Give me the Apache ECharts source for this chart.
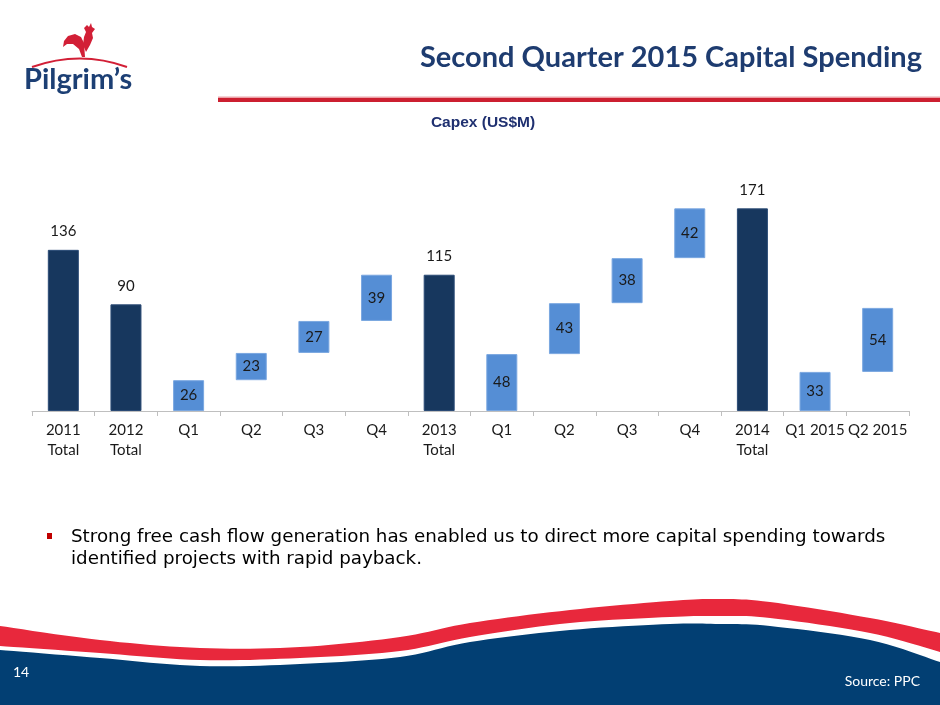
<!DOCTYPE html>
<html>
<head>
<meta charset="utf-8">
<script src="https://cdn.jsdelivr.net/npm/echarts@6/dist/echarts.min.js"></script>
<style>
html,body{margin:0;padding:0;background:#fff;}
#chart{width:940px;height:705px;}
</style>
</head>
<body>
<div id="chart"></div>
<script>
// ---- Data (US$M) ----
const categories = ['2011\nTotal','2012\nTotal','Q1','Q2','Q3','Q4','2013\nTotal','Q1','Q2','Q3','Q4','2014\nTotal','Q1 2015','Q2 2015'];
const totalValues   = [136, 90, '-', '-', '-', '-', 115, '-', '-', '-', '-', 171, '-', '-'];
const quarterValues = ['-', '-', 26, 23, 27, 39, '-', 48, 43, 38, 42, '-', 33, 54];
const baseValues    = [0, 0, 0, 26, 49, 76, 0, 0, 48, 91, 129, 0, 0, 33];

const NAVY = '#17375E';
const LIGHT = '#558ED5';
const FONT = 'Lato, "Open Sans", sans-serif';

// decorative wave helper (Catmull-Rom densify)
function smoothPts(pts, steps) {
  const out = [];
  for (let i = 0; i < pts.length - 1; i++) {
    const p0 = pts[Math.max(i - 1, 0)], p1 = pts[i], p2 = pts[i + 1], p3 = pts[Math.min(i + 2, pts.length - 1)];
    for (let t = 0; t < steps; t++) {
      const s = t / steps, s2 = s * s, s3 = s2 * s;
      const f = (a, b, c, d) => 0.5 * ((2 * b) + (-a + c) * s + (2 * a - 5 * b + 4 * c - d) * s2 + (-a + 3 * b - 3 * c + d) * s3);
      out.push([f(p0[0], p1[0], p2[0], p3[0]), f(p0[1], p1[1], p2[1], p3[1])]);
    }
  }
  out.push(pts[pts.length - 1]);
  return out;
}
const redTop = smoothPts([[0,626],[100,640],[200,648],[300,647],[400,637],[470,623],[570,610],[670,601],[720,599],[770,602],[870,618],[940,633]], 10);
const redBot = smoothPts([[0,646],[100,653],[200,660],[300,658],[400,651],[470,637],[570,623],[670,617],[720,616],[770,618],[870,633],[940,652]], 10);
const navyTop = smoothPts([[0,650],[100,658],[200,666],[300,664],[400,657],[470,642],[570,630],[670,624],[720,624],[770,626],[870,640],[940,662]], 10);

const chart = echarts.init(document.getElementById('chart'));
chart.setOption({
  backgroundColor: '#fff',
  animation: false,
  grid: { left: 32, right: 31, top: 174, bottom: 294, containLabel: false },
  xAxis: {
    type: 'category',
    data: categories,
    axisLine: { lineStyle: { color: '#BFBFBF', width: 1 } },
    axisTick: { show: true, length: 5, alignWithLabel: false, lineStyle: { color: '#BFBFBF' } },
    axisLabel: { interval: 0, fontFamily: FONT, fontSize: 15, lineHeight: 20, color: '#1a1a1a', margin: 9 }
  },
  yAxis: { type: 'value', min: 0, max: 200, show: false, splitLine: { show: false } },
  series: [
    {
      name: 'base', type: 'bar', stack: 'w', data: baseValues, barWidth: 31,
      itemStyle: { color: 'rgba(0,0,0,0)' }, silent: true
    },
    {
      name: 'Total', type: 'bar', stack: 'w', data: totalValues, barWidth: 31,
      itemStyle: { color: NAVY, borderColor: '#2A4A75', borderWidth: 1 },
      label: { show: true, position: 'top', distance: 11, fontFamily: FONT, fontSize: 15, color: '#1a1a1a' }
    },
    {
      name: 'Quarter', type: 'bar', stack: 'w', data: quarterValues, barWidth: 31,
      itemStyle: { color: LIGHT, borderColor: '#7AA7E0', borderWidth: 1 },
      label: { show: true, position: 'inside', fontFamily: FONT, fontSize: 15, color: '#1a1a1a' }
    }
  ],
  graphic: [
    // waves
    { type: 'polygon', z: 1, shape: { points: navyTop.concat([[940,705],[0,705]]) }, style: { fill: '#023F73' } },
    { type: 'polygon', z: 1, shape: { points: redTop.concat(redBot.slice().reverse()) }, style: { fill: '#E8283C' } },
    { type: 'text', z: 2, x: 13, y: 672, style: { text: '14', font: '14px ' + FONT, fill: '#fff', align: 'left', verticalAlign: 'middle', textAlign: 'left', textVerticalAlign: 'middle' } },
    { type: 'text', z: 2, x: 920, y: 681, style: { text: 'Source: PPC', font: '14px ' + FONT, fill: '#fff', align: 'right', verticalAlign: 'middle', textAlign: 'right', textVerticalAlign: 'middle' } },
    // title
    { type: 'text', x: 922, y: 58, style: { text: 'Second Quarter 2015 Capital Spending', font: 'bold 29px ' + FONT, fill: '#1E3C70', align: 'right', verticalAlign: 'middle', textAlign: 'right', textVerticalAlign: 'middle' } },
    { type: 'rect', shape: { x: 218, y: 96.5, width: 722, height: 1.5 }, style: { fill: '#EBA3A9' } },
    { type: 'rect', shape: { x: 218, y: 98, width: 722, height: 4 }, style: { fill: '#CC1F30' } },
    { type: 'text', x: 483, y: 123, style: { text: 'Capex (US$M)', font: 'bold 15.5px "Liberation Sans", Arial, sans-serif', fill: '#1F3070', align: 'center', verticalAlign: 'middle', textAlign: 'center', textVerticalAlign: 'middle' } },
    // bullet
    { type: 'rect', shape: { x: 47, y: 533, width: 5, height: 6 }, style: { fill: '#C00000' } },
    { type: 'text', x: 71, y: 537, style: { text: 'Strong free cash flow generation has enabled us to direct more capital spending towards', font: '18.3px "DejaVu Sans", Verdana, sans-serif', fill: '#000', align: 'left', verticalAlign: 'middle', textAlign: 'left', textVerticalAlign: 'middle' } },
    { type: 'text', x: 71, y: 559, style: { text: 'identified projects with rapid payback.', font: '18.3px "DejaVu Sans", Verdana, sans-serif', fill: '#000', align: 'left', verticalAlign: 'middle', textAlign: 'left', textVerticalAlign: 'middle' } },
    // logo
    { type: 'bezierCurve', shape: { x1: 32, y1: 67, x2: 127, y2: 67, cpx1: 80, cpy1: 50 }, style: { stroke: '#D21F36', lineWidth: 2, fill: null } },
    { type: 'polygon', shape: { points: [[82,57],[79,49],[73,44],[67,44],[63,47],[64,41],[68,36],[75,34],[81,37],[84,43],[85,57]] }, style: { fill: '#D21F36' } },
    { type: 'polygon', shape: { points: [[83,45],[84,37],[86,32],[84,28],[87,25],[89,27],[91,23],[92,27],[95,29],[92,33],[93,38],[90,45],[86,52]] }, style: { fill: '#D21F36' } },
    { type: 'text', x: 24, y: 80, style: { text: 'Pilgrim\u2019s', font: 'bold 29px ' + FONT, fill: '#1C3F74', align: 'left', verticalAlign: 'middle', textAlign: 'left', textVerticalAlign: 'middle' } }
  ]
});
</script>
</body>
</html>
